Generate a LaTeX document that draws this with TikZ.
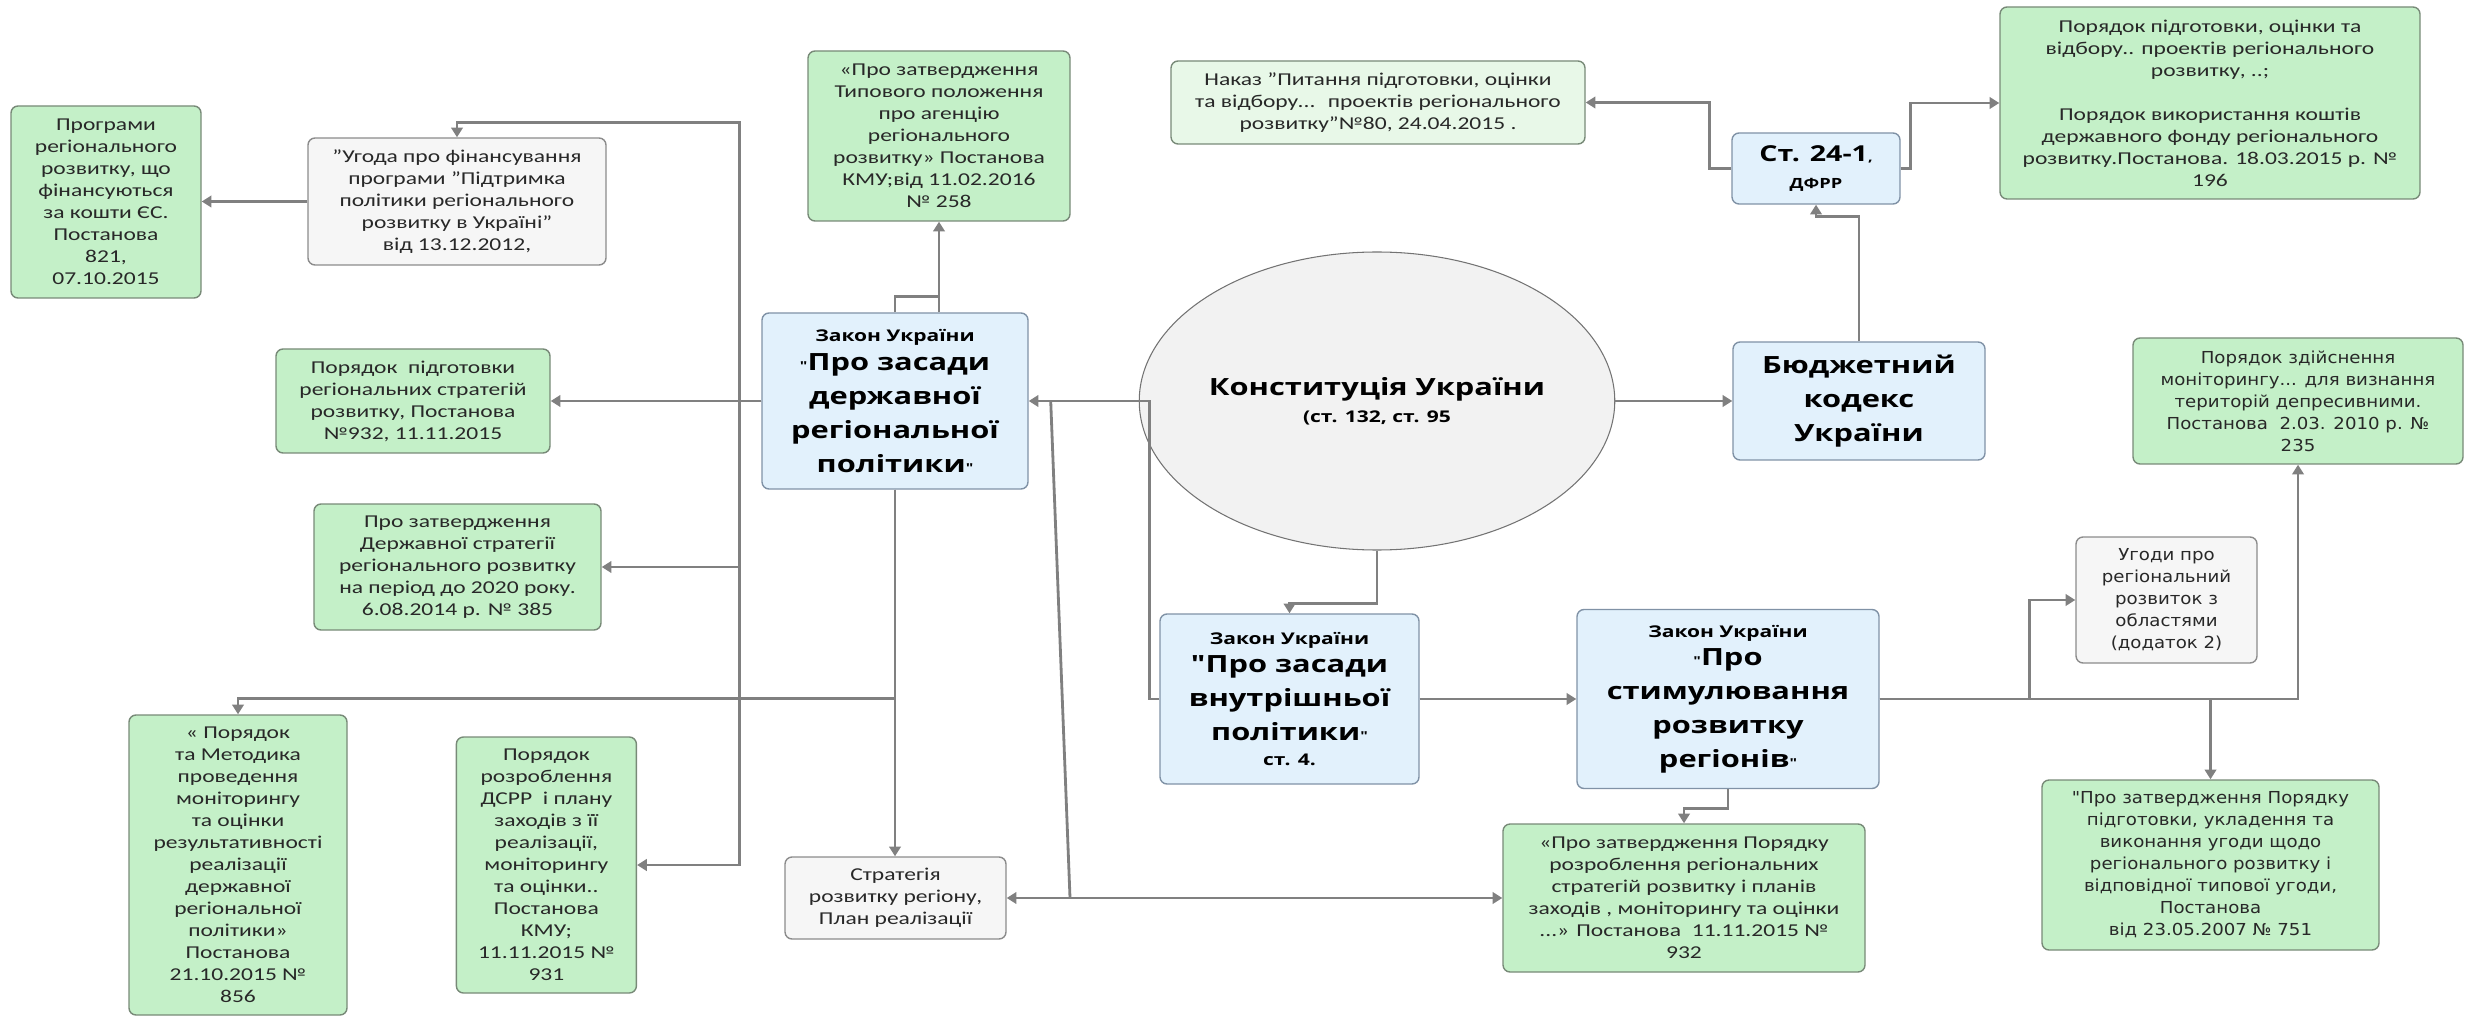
\documentclass[tikz,border=0pt]{standalone}
\usepackage{fontspec}
\setmainfont{Carlito}[FakeStretch=1.3]
\newfontfamily\verdfont{DejaVu Sans}[FakeStretch=1.1]
\newfontfamily\titlefont{Open Sans}[FakeStretch=1.3]
\usepackage{xcolor}
\usepackage{tikz}
\usetikzlibrary{arrows.meta, positioning, calc, shapes.geometric}

\definecolor{greenfill}{RGB}{196,240,200}
\definecolor{greenline}{RGB}{120,138,120}
\definecolor{lightfill}{RGB}{232,248,232}
\definecolor{bluefill}{RGB}{226,241,252}
\definecolor{blueline}{RGB}{128,146,166}
\definecolor{grayfill}{RGB}{246,246,246}
\definecolor{grayline}{RGB}{140,140,140}
\definecolor{ovalfill}{RGB}{242,242,242}
\definecolor{linegray}{RGB}{128,128,128}
\definecolor{bodytext}{RGB}{40,40,40}

\newcommand{\boxtext}{\fontsize{10.3}{12.5}\selectfont}
\newcommand{\verdtext}{\verdfont\fontsize{9.4}{12.5}\selectfont}
\newcommand{\bigtitle}{\titlefont\bfseries\fontsize{13.5}{19.3}\selectfont}
\newcommand{\zakonline}{{\fontsize{9.2}{12}\selectfont Закон України}}
\newcommand{\smallq}{{\fontsize{7}{7}\selectfont"}}

\begin{document}
\begin{tikzpicture}[
    x=0.02cm, y=-0.02cm,
    greenbox/.style={rectangle, draw=greenline, fill=greenfill, line width=0.8pt, rounded corners=4pt, align=center, text=bodytext, inner sep=1pt, font=\boxtext},
    lightbox/.style={greenbox, fill=lightfill},
    graybox/.style={greenbox, draw=grayline, fill=grayfill},
    bluebox/.style={greenbox, draw=blueline, fill=bluefill, text=black, font=\bigtitle},
    boxsize/.style 2 args={minimum width=#1*0.02cm, minimum height=#2*0.02cm},
    conn/.style={-{Triangle[width=6.5pt,length=5.5pt]}, draw=linegray, line width=1.6pt},
    plainline/.style={draw=linegray, line width=1.6pt}
]
\useasboundingbox (0,0) rectangle (2470,1016);

% Central law
\node[ellipse, draw=black!55, line width=0.6pt, fill=ovalfill, boxsize={393}{298}, inner sep=0pt, align=center, font=\bigtitle] (konst) at (1377,401) {Конституція України\\[-4pt]{\fontsize{9.2}{12}\selectfont (ст. 132, ст. 95}};

% Laws (blue)
\node[bluebox, boxsize={266}{176}] (drp) at (895,401) {\zakonline\\[-3pt]\smallq Про засади\\державної\\регіональної\\політики\smallq};
\node[bluebox, boxsize={252}{118}] (bk) at (1859,401) {Бюджетний\\кодекс\\України};
\node[bluebox, boxsize={168}{71}] (st241) at (1816,168.5) {{\fontsize{12.5}{15}\selectfont Ст. 24-1}{\fontsize{7}{8}\selectfont ,}\\[-4pt]{\fontsize{8}{9}\selectfont ДФРР}};
\node[bluebox, boxsize={259}{170}] (vnutr) at (1289.5,699) {\zakonline\\[-3pt]"Про засади\\внутрішньої\\політики\smallq\\[-5pt]{\fontsize{9.2}{12}\selectfont ст. 4.}};
\node[bluebox, boxsize={302}{179}] (stym) at (1728,699) {\zakonline\\[-3pt]\smallq Про\\стимулювання\\розвитку\\регіонів\smallq};

% Left side documents
\node[greenbox, boxsize={190}{192}] (prog) at (106,202) {Програми\\регіонального\\розвитку, що\\фінансуються\\за кошти ЄС.\\Постанова\\821,\\07.10.2015};
\node[graybox, boxsize={298}{127}] (ugoda) at (457,201.5) {"Угода про фінансування\\програми "Підтримка\\політики регіонального\\розвитку в Україні"\\від 13.12.2012,};
\node[greenbox, boxsize={262}{170}] (typ) at (939,136) {«Про затвердження\\Типового положення\\про агенцію\\регіонального\\розвитку» Постанова\\КМУ;від 11.02.2016\\№ 258};
\node[greenbox, boxsize={274}{104}] (p932b) at (413,401) {Порядок~ підготовки\\регіональних стратегій\\розвитку, Постанова\\№932, 11.11.2015};
\node[greenbox, boxsize={287}{126}] (dsrr) at (457.5,567) {Про затвердження\\Державної стратегії\\регіонального розвитку\\на період до 2020 року.\\6.08.2014 р. № 385};
\node[greenbox, boxsize={218}{300}] (pm856) at (238,865) {« Порядок\\та Методика\\проведення\\моніторингу\\та оцінки\\результативності\\реалізації\\державної\\регіональної\\політики»\\Постанова\\21.10.2015 №\\856};
\node[greenbox, boxsize={180}{256}, right=2.16cm of pm856] (ps931) {Порядок\\розроблення\\ДСРР~ і плану\\заходів з її\\реалізації,\\моніторингу\\та оцінки..\\Постанова\\КМУ;\\11.11.2015 №\\931};
\node[graybox, boxsize={221}{82}] (strat) at (895.5,898) {Стратегія\\розвитку регіону,\\План реалізації};

% Right side documents
\node[lightbox, boxsize={414}{83}] (nakaz) at (1378,102.5) {Наказ "Питання підготовки, оцінки\\та відбору...~ проектів регіонального\\розвитку"№80, 24.04.2015 .};
\node[greenbox, boxsize={420}{192}] (p196) at (2210,103) {Порядок підготовки, оцінки та\\відбору.. проектів регіонального\\розвитку, ..;\\[12.5pt]Порядок використання коштів\\державного фонду регіонального\\розвитку.Постанова. 18.03.2015 р. №\\196};
\node[greenbox, boxsize={330}{126}, font=\verdtext] (pzd) at (2298,401) {Порядок здійснення\\моніторингу... для визнання\\територій депресивними.\\Постанова~ 2.03. 2010 р. №\\235};
\node[graybox, boxsize={181}{126}, font=\verdtext] (ugody) at (2166.5,600) {Угоди про\\регіональний\\розвиток з\\областями\\(додаток 2)};
\node[greenbox, boxsize={337}{170}, font=\verdtext] (ps751) at (2210.5,865) {"Про затвердження Порядку\\підготовки, укладення та\\виконання угоди щодо\\регіонального розвитку і\\відповідної типової угоди,\\Постанова\\від 23.05.2007 № 751};
\node[greenbox, boxsize={362}{148}] (ps932) at (1684,898) {«Про затвердження Порядку\\розроблення регіональних\\стратегій розвитку і планів\\заходів , моніторингу та оцінки\\...» Постанова~ 11.11.2015 №\\932};

% Helper points
\coordinate (ugodatop) at ($(ugoda.north)+(0,-15)$);
\coordinate (slant) at (1070,898);

% Arrows - from the regional policy law
\draw[conn] (ugoda.west) -- (ugoda.west -| prog.east);
\draw[conn] (drp.west) -- (p932b.east);
\draw[conn] (drp.west) -- ++(-22,0) |- (ugodatop) -- (ugoda.north);
\draw[conn] (drp.west) -- ++(-22,0) |- (dsrr.east);
\draw[conn] (drp.west) -- ++(-22,0) |- (ps931.east);
\draw[conn] (drp.south) -- (drp.south |- strat.north);
\draw[conn] (drp.south) -- ++(0,209) -| (pm856.north);
\draw[conn] (drp.north) -- ++(0,-16) -| (typ.south);
\draw[plainline] (typ.south |- drp.north) -- ++(0,-16);
\draw[plainline] ($(drp.east)+(22,0)$) -- (slant);
\draw[conn] (slant) -- (strat.east);
\draw[conn] (slant) -- (ps932.west);

% Arrows - constitution and budget code
\draw[conn] (konst.east) -- (bk.west);
\draw[conn] (bk.north) -- ++(0,-125) -| (st241.south);
\draw[conn] (st241.west) -- ++(-22,0) |- (nakaz.east);
\draw[conn] (st241.east) -- ++(10,0) |- (p196.west);
\draw[conn] (konst.south) -- ++(0,53) -| (vnutr.north);
\draw[conn] (vnutr.west) -- ++(-10,0) |- (drp.east);

% Arrows - regional development law
\draw[conn] (vnutr.east) -- (vnutr.east -| stym.west);
\draw[conn] (stym.south) -- ++(0,19) -| (ps932.north);
\draw[conn] (stym.east) -| (pzd.south);
\draw[conn] (stym.east) -- ++(150,0) |- (ugody.west);
\draw[conn] (stym.east) -| (ps751.north);

\end{tikzpicture}
\end{document}
